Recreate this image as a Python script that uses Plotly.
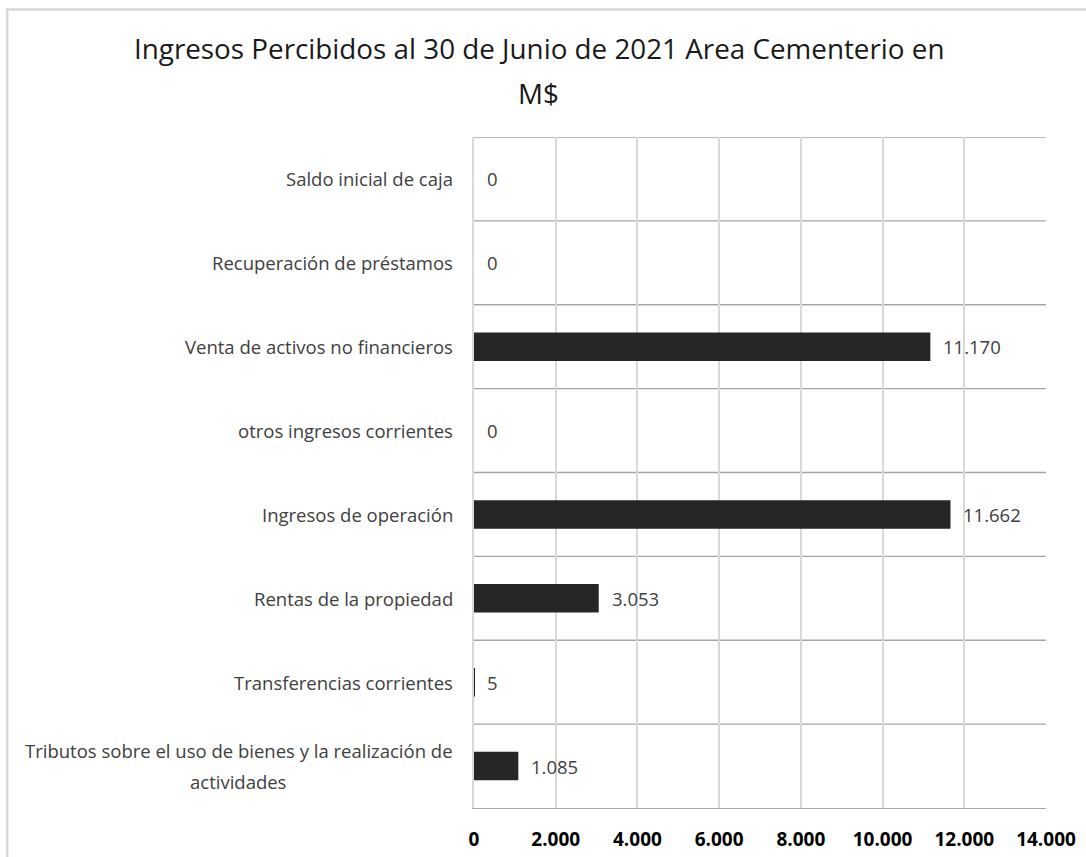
import plotly.graph_objects as go

categories = [
    "Tributos sobre el uso de bienes y la realización de<br>actividades",
    "Transferencias corrientes",
    "Rentas de la propiedad",
    "Ingresos de operación",
    "otros ingresos corrientes",
    "Venta de activos no financieros",
    "Recuperación de préstamos",
    "Saldo inicial de caja",
]
values = [1085, 5, 3053, 11662, 0, 11170, 0, 0]
x_ticks = [0, 2000, 4000, 6000, 8000, 10000, 12000, 14000]
x_tick_labels = ["0", "2.000", "4.000", "6.000", "8.000", "10.000", "12.000", "14.000"]
title_lines = ["Ingresos Percibidos al 30 de Junio de 2021 Area Cementerio en", "M$"]

def fmt(v):
    return f"{v:,}".replace(",", ".")

FONT = "Open Sans"
LABEL_SIZE = 18.5
LABEL_GAP = 19          # px between label block and plot edge
WRAP_CENTER_SHIFT = -236  # px from plot edge to centre of wrapped label block
LINE_STEP = 31          # px between lines of a wrapped label
idx = list(range(len(categories)))

fig = go.Figure()
fig.add_trace(go.Bar(
    y=idx, x=values, orientation="h",
    marker=dict(color="#262626", line=dict(width=0)),
    width=0.34,
    hoverinfo="skip",
))

shapes = []
for i in idx:
    shapes.append(dict(type="line", xref="paper", yref="y", x0=0, x1=1,
                       y0=i + 0.5, y1=i + 0.5, line=dict(color="#a6a6a6", width=1.3), layer="below"))
shapes.append(dict(type="rect", xref="paper", yref="paper", x0=-0.816, x1=1.2, y0=-0.5, y1=1.19,
                   line=dict(color="#d9d9d9", width=2.5), layer="below"))

annotations = []
for i, c, v in zip(idx, categories, values):
    lines = c.split("<br>")
    n = len(lines)
    for k, line in enumerate(lines):
        if n == 1 or k == 0:
            pos = dict(xshift=-LABEL_GAP, xanchor="right")
        else:
            pos = dict(xshift=WRAP_CENTER_SHIFT, xanchor="center")
        annotations.append(dict(xref="paper", yref="y", x=0, y=i,
                                yshift=((n - 1) / 2 - k) * LINE_STEP,
                                yanchor="middle", text=line, showarrow=False,
                                font=dict(family=FONT, size=LABEL_SIZE, color="#404040"), **pos))
    annotations.append(dict(xref="x", yref="y", x=v, y=i, xshift=11, xanchor="left",
                            yanchor="middle", text=fmt(v), showarrow=False,
                            font=dict(family=FONT, size=18.5, color="#404040")))
annotations.append(dict(xref="paper", yref="paper", x=0.113, y=1.0, yshift=89, xanchor="center",
                        yanchor="middle", text=title_lines[0], showarrow=False,
                        font=dict(family=FONT, size=27.8, color="#1a1a1a")))
annotations.append(dict(xref="paper", yref="paper", x=0.113, y=1.0, yshift=44, xanchor="center",
                        yanchor="middle", text=title_lines[1], showarrow=False,
                        font=dict(family=FONT, size=27.8, color="#1a1a1a")))

fig.update_layout(
    width=1086, height=857,
    margin=dict(l=474, r=40, t=137, b=49, autoexpand=False),
    paper_bgcolor="white", plot_bgcolor="white",
    showlegend=False,
    bargap=0.66,
    shapes=shapes,
    annotations=annotations,
    xaxis=dict(range=[0, 14000], tickvals=x_ticks, ticktext=x_tick_labels,
               showgrid=True, gridcolor="#d9d9d9", gridwidth=2,
               zeroline=False, showline=True, linecolor="#a6a6a6", linewidth=1.3,
               ticks="outside", ticklen=14, tickcolor="rgba(0,0,0,0)",
               tickfont=dict(family=FONT, size=19, color="#000000", weight="bold"),
               fixedrange=True),
    yaxis=dict(range=[-0.5, len(categories) - 0.5], showticklabels=False,
               showgrid=False, zeroline=False, showline=True, linecolor="#d9d9d9", linewidth=2,
               ticks="", fixedrange=True),
)

fig.write_html("out.html")
